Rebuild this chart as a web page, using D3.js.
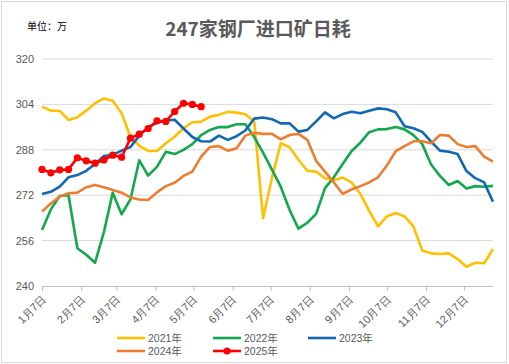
<!DOCTYPE html>
<html>
<head>
<meta charset="utf-8">
<script src="https://cdn.jsdelivr.net/npm/d3@7"></script>
<style>
  html, body { margin: 0; padding: 0; background: #fff; }
  svg { display: block; font-family: "Noto Sans CJK SC", "Noto Sans", sans-serif; }
</style>
</head>
<body>
<div id="chart"></div>
<script>
// weekly daily consumption, 10k tonnes
const v2021 = [303.2, 301.8, 301.7, 298.5, 299.5, 301.8, 304.4, 306.1, 305.3, 300.9,
  292.5, 289.5, 287.6, 287.6, 290.3, 292.6, 295.6, 297.7, 297.9, 299.7,
  300.3, 301.4, 301.1, 300.5, 298.0, 263.9, 278.0, 290.3, 288.9, 284.5,
  280.6, 280.3, 278.0, 277.3, 278.2, 276.5, 272.5, 266.5, 261.0, 264.5,
  265.7, 264.5, 261.0, 252.5, 251.5, 251.3, 251.5, 249.5, 246.8, 248.2,
  248.0, 253.0];
const v2022 = [259.7, 267.0, 271.7, 272.0, 253.3, 251.0, 248.2, 259.0, 272.9, 265.3,
  270.5, 284.3, 278.9, 282.0, 287.3, 286.5, 288.0, 290.0, 293.2, 295.0,
  296.0, 296.0, 297.0, 297.0, 292.5, 287.0, 281.0, 275.0, 266.8, 260.2,
  262.3, 265.4, 274.5, 278.3, 283.0, 287.5, 290.5, 294.2, 295.2, 295.3,
  296.0, 295.2, 293.2, 290.0, 282.8, 278.8, 275.6, 277.0, 274.4, 275.2,
  275.0, 275.3];
const v2023 = [272.4, 273.2, 275.0, 278.3, 279.1, 280.6, 283.0, 285.8, 286.2, 287.7,
  289.0, 293.0, 296.0, 297.5, 298.3, 298.6, 295.5, 292.5, 291.0, 290.9,
  293.0, 291.5, 292.8, 294.8, 299.0, 299.4, 298.8, 297.3, 297.3, 294.4,
  295.0, 298.0, 301.2, 299.1, 300.6, 301.4, 300.9, 301.8, 302.6, 302.3,
  301.2, 296.3, 295.6, 294.3, 290.9, 287.7, 287.3, 286.5, 280.5, 278.0,
  276.5, 269.7];
const v2024 = [266.2, 269.1, 271.5, 272.7, 272.9, 274.8, 275.6, 274.8, 273.8, 272.9,
  271.2, 270.5, 270.3, 273.0, 275.2, 276.4, 278.8, 280.3, 285.6, 289.0,
  289.3, 287.7, 288.5, 293.0, 294.0, 293.6, 293.6, 291.7, 293.2, 293.6,
  291.5, 284.1, 280.3, 276.5, 272.5, 274.0, 275.2, 276.5, 278.3, 282.5,
  287.5, 289.3, 291.0, 291.0, 290.3, 293.2, 293.0, 290.0, 289.0, 289.3,
  285.6, 283.8];
const v2025 = [281.1, 279.9, 280.9, 281.1, 285.2, 284.1, 283.3, 284.4, 286.1, 285.4,
  292.1, 293.5, 295.5, 298.2, 298.0, 301.5, 304.4, 304.0, 303.2];

const seriesNames = ["2021年", "2022年", "2023年", "2024年", "2025年"];
const seriesColors = ["#FFC000", "#12A84C", "#1068B4", "#ED7D31", "#FF0000"];
const yTicks = [240, 256, 272, 288, 304, 320];
const monthLabels = ["1月7日", "2月7日", "3月7日", "4月7日", "5月7日", "6月7日",
  "7月7日", "8月7日", "9月7日", "10月7日", "11月7日", "12月7日"];

const W = 509, H = 364;
const start = new Date(2023, 0, 7);
const weekDate = i => d3.timeDay.offset(start, i * 7);

const svg = d3.select("#chart").append("svg")
  .attr("width", W).attr("height", H);

// outer frame
svg.append("rect")
  .attr("x", 1.5).attr("y", 1.5).attr("width", W - 4).attr("height", H - 3)
  .attr("fill", "#fff").attr("stroke", "#d9d9d9");

const x = d3.scaleTime()
  .domain([start, weekDate(51)])
  .range([42, 493]);
const y = d3.scaleLinear().domain([240, 320]).range([286, 59]);

// grid
svg.append("g").selectAll("line")
  .data(yTicks.slice(1))
  .join("line")
  .attr("x1", 42).attr("x2", 493)
  .attr("y1", d => y(d)).attr("y2", d => y(d))
  .attr("stroke", "#d9d9d9").attr("stroke-width", 1);

// y axis labels
const yAxis = svg.append("g")
  .attr("transform", "translate(36,0)")
  .call(d3.axisLeft(y).tickValues(yTicks).tickSize(0).tickPadding(2));
yAxis.select(".domain").remove();
yAxis.selectAll("text")
  .attr("fill", "#595959").style("font-size", "11px")
  .style("font-family", "'Liberation Sans', Arial, sans-serif");

// x axis
const tickDates = monthLabels.map((d, i) => new Date(2023, i, 7));
const xAxis = svg.append("g")
  .attr("transform", `translate(0,${y(240)})`)
  .call(d3.axisBottom(x).tickValues(tickDates).tickSize(5)
    .tickFormat((d, i) => monthLabels[i]));
xAxis.select(".domain").attr("stroke", "#bfbfbf").attr("d", "M42,0.5H493");
xAxis.selectAll(".tick line").attr("stroke", "#bfbfbf");
xAxis.selectAll(".tick text")
  .attr("fill", "#595959").style("font-size", "11px")
  .attr("text-anchor", "end")
  .attr("dy", null).attr("y", null)
  .attr("transform", "translate(4,14) rotate(-45)");

// lines
const line = d3.line()
  .x((d, i) => x(weekDate(i)))
  .y(d => y(d));

const allSeries = [v2021, v2022, v2023, v2024, v2025];
svg.append("g").selectAll("path")
  .data(allSeries)
  .join("path")
  .attr("fill", "none")
  .attr("stroke", (d, i) => seriesColors[i])
  .attr("stroke-width", 2.6)
  .attr("stroke-linejoin", "round")
  .attr("d", line);

svg.append("g").selectAll("circle")
  .data(v2025)
  .join("circle")
  .attr("cx", (d, i) => x(weekDate(i)))
  .attr("cy", d => y(d))
  .attr("r", 3.6)
  .attr("fill", "#FF0000");

// title and unit
svg.append("text")
  .attr("x", 258).attr("y", 36)
  .attr("text-anchor", "middle")
  .attr("fill", "#595959")
  .style("font-size", "19px").style("font-weight", "bold")
  .text("247家钢厂进口矿日耗");
svg.append("text")
  .attr("x", 27).attr("y", 30)
  .attr("fill", "#000")
  .style("font-size", "10px")
  .text("单位：万");

// legend
const legendPos = [[117, 338], [213, 338], [308, 338], [117, 351], [213, 351]];
const lg = svg.append("g").selectAll("g")
  .data(seriesNames)
  .join("g")
  .attr("transform", (d, i) => `translate(${legendPos[i][0]},${legendPos[i][1]})`);
lg.append("line")
  .attr("x1", 0).attr("x2", 28)
  .attr("stroke", (d, i) => seriesColors[i])
  .attr("stroke-width", 2.6);
lg.filter((d, i) => i === 4).append("circle")
  .attr("cx", 14).attr("r", 3.6).attr("fill", "#FF0000");
lg.append("text")
  .attr("x", 31).attr("y", 4)
  .attr("fill", "#595959")
  .style("font-size", "10.5px")
  .style("font-family", "'Liberation Sans', 'Noto Sans CJK SC', sans-serif")
  .text(d => d);
</script>
</body>
</html>
